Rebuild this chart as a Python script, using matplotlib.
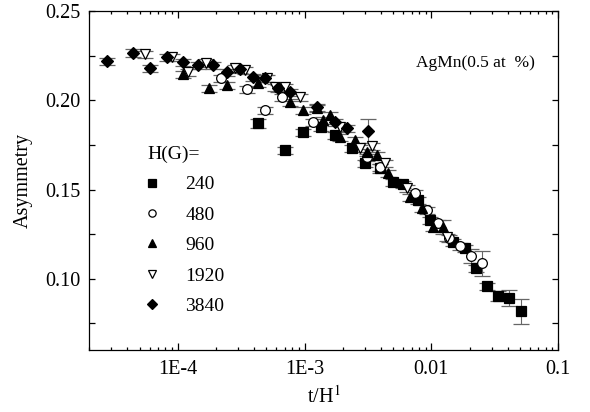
import matplotlib
matplotlib.use("Agg")
import matplotlib.pyplot as plt
from matplotlib.ticker import MultipleLocator, FormatStrFormatter, FixedLocator, FixedFormatter, LogLocator
from matplotlib.lines import Line2D

plt.rcParams['font.family'] = ['Liberation Serif', 'DejaVu Serif']
plt.rcParams['mathtext.fontset'] = 'stix'

# H = 240 G (filled squares)
x_240 = [4.31e-4, 7.03e-4, 9.75e-4, 1.35e-3, 1.74e-3, 2.37e-3, 3.01e-3, 3.94e-3, 5.0e-3, 6.0e-3,
         7.87e-3, 9.79e-3, 1.49e-2, 1.85e-2, 2.25e-2, 2.75e-2, 3.36e-2, 4.11e-2, 5.11e-2]
y_240 = [0.1872, 0.1721, 0.1822, 0.1850, 0.1805, 0.1732, 0.1648, 0.1620, 0.1542, 0.1530,
         0.1441, 0.1329, 0.1205, 0.1172, 0.1060, 0.0959, 0.0903, 0.0891, 0.0818]
e_240 = [0.0025, 0.002, 0.002, 0.002, 0.002, 0.002, 0.002, 0.0025, 0.002, 0.002,
         0.002, 0.002, 0.002, 0.002, 0.002, 0.002, 0.003, 0.0045, 0.007]

# H = 480 G (open circles)
x_480 = [2.20e-4, 3.52e-4, 4.89e-4, 6.65e-4, 1.17e-3, 3.12e-3, 3.94e-3, 7.45e-3, 9.27e-3,
         1.13e-2, 1.38e-2, 1.69e-2, 2.06e-2, 2.52e-2]
y_480 = [0.2124, 0.2063, 0.1945, 0.2018, 0.1878, 0.1682, 0.1626, 0.1480, 0.1385,
         0.1312, 0.1228, 0.1183, 0.1127, 0.1088]
e_480 = [0.002, 0.002, 0.002, 0.002, 0.002, 0.002, 0.002, 0.002, 0.002,
         0.002, 0.002, 0.002, 0.004, 0.007]

# H = 960 G (filled up triangles)
x_960 = [1.10e-4, 1.77e-4, 2.45e-4, 4.31e-4, 7.69e-4, 9.75e-4, 1.26e-3, 1.40e-3, 1.59e-3,
         1.91e-3, 2.51e-3, 3.12e-3, 3.74e-3, 4.56e-3, 6.81e-3, 8.45e-3, 1.03e-2, 1.24e-2]
y_960 = [0.2147, 0.2068, 0.2085, 0.2096, 0.1990, 0.1945, 0.1956, 0.1889, 0.1917,
         0.1794, 0.1777, 0.1710, 0.1693, 0.1592, 0.1457, 0.1396, 0.1289, 0.1289]
e_960 = [0.002, 0.002, 0.002, 0.002, 0.002, 0.002, 0.002, 0.002, 0.002,
         0.002, 0.002, 0.002, 0.002, 0.002, 0.002, 0.002, 0.002, 0.004]

# H = 1920 G (open down triangles)
x_1920 = [5.53e-5, 9.03e-5, 1.21e-4, 1.68e-4, 2.84e-4, 3.40e-4, 5.07e-4, 5.86e-4, 7.03e-4,
          9.23e-4, 1.91e-3, 2.74e-3, 3.41e-3, 4.33e-3, 6.44e-3, 1.33e-2]
y_1920 = [0.2259, 0.2242, 0.2158, 0.2209, 0.2180, 0.2169, 0.2124, 0.2074, 0.2074,
          0.2018, 0.1850, 0.1732, 0.1743, 0.1648, 0.1508, 0.1233]
e_1920 = [0.002, 0.002, 0.002, 0.002, 0.002, 0.002, 0.002, 0.002, 0.002,
          0.002, 0.002, 0.002, 0.002, 0.002, 0.002, 0.002]

# H = 3840 G (filled diamonds)
x_3840 = [2.77e-5, 4.45e-5, 6.05e-5, 8.24e-5, 1.10e-4, 1.45e-4, 1.90e-4, 2.45e-4, 3.11e-4,
          3.94e-4, 4.89e-4, 6.19e-4, 7.69e-4, 1.26e-3, 1.74e-3, 2.17e-3, 3.18e-3]
y_3840 = [0.2220, 0.2265, 0.2180, 0.2242, 0.2214, 0.2197, 0.2197, 0.2158, 0.2175,
          0.2130, 0.2124, 0.2068, 0.2046, 0.1962, 0.1878, 0.1844, 0.1827]
e_3840 = [0.002, 0.002, 0.002, 0.002, 0.002, 0.002, 0.002, 0.002, 0.002,
          0.002, 0.002, 0.002, 0.002, 0.002, 0.002, 0.002, 0.0067]

series_labels = ["240", "480", "960", "1920", "3840"]
xtick_vals = [1e-4, 1e-3, 1e-2, 1e-1]
xtick_labels = ["1E-4", "1E-3", "0.01", "0.1"]

fig = plt.figure(figsize=(5.9, 4.12), dpi=100)
ax = fig.add_axes([0.151, 0.150, 0.795, 0.823])

styles = [
    (x_240, y_240, e_240, 's', 'k', 6.8),
    (x_480, y_480, e_480, 'o', 'white', 7.0),
    (x_960, y_960, e_960, '^', 'k', 7.5),
    (x_1920, y_1920, e_1920, 'v', 'white', 7.5),
    (x_3840, y_3840, e_3840, 'D', 'k', 6.2),
]

handles = []
for (xs, ys, es, mk, fc, ms), lab in zip(styles, series_labels):
    ax.errorbar(xs, ys, yerr=es, fmt=mk, ms=ms, mfc=fc, mec='k', mew=0.9,
                ecolor='0.4', elinewidth=0.8, capsize=5.5, capthick=0.8)
    handles.append(Line2D([], [], ls='none', marker=mk, ms=ms * 0.75, mfc=fc, mec='k', mew=0.9, label=lab))

ax.set_xscale('log')
ax.set_xlim(2e-5, 0.1)
ax.set_ylim(0.06, 0.25)

ax.xaxis.set_major_locator(FixedLocator(xtick_vals))
ax.xaxis.set_major_formatter(FixedFormatter(xtick_labels))
ax.xaxis.set_minor_locator(LogLocator(base=10, subs=range(2, 10)))
ax.xaxis.set_minor_formatter(FixedFormatter([]))
ax.yaxis.set_major_locator(MultipleLocator(0.05))
ax.yaxis.set_minor_locator(MultipleLocator(0.025))
ax.yaxis.set_major_formatter(FormatStrFormatter('%.2f'))

ax.tick_params(which='both', direction='in', top=True, right=True, labelsize=14.5, width=0.9)
ax.tick_params(axis='x', which='major', length=5, pad=7)
ax.tick_params(axis='x', which='minor', length=2.5)
ax.tick_params(axis='y', which='both', length=4.5, pad=6)
for sp in ax.spines.values():
    sp.set_linewidth(0.9)

ax.set_xlabel(r"t/H$^{\rm 1}$", fontsize=14.5, labelpad=5)
ax.set_ylabel("Asymmetry", fontsize=14.5, labelpad=9)

ax.text(0.951, 0.848, "AgMn(0.5 at  %)", transform=ax.transAxes, ha='right', va='center', fontsize=12.5)

leg = ax.legend(handles=handles, title="H(G)=", loc='upper left', bbox_to_anchor=(0.087, 0.655),
                frameon=False, fontsize=14, title_fontsize=14, labelspacing=0.66,
                handlelength=0.5, handletextpad=1.45, alignment='left')

fig.savefig("out.png", dpi=100)
